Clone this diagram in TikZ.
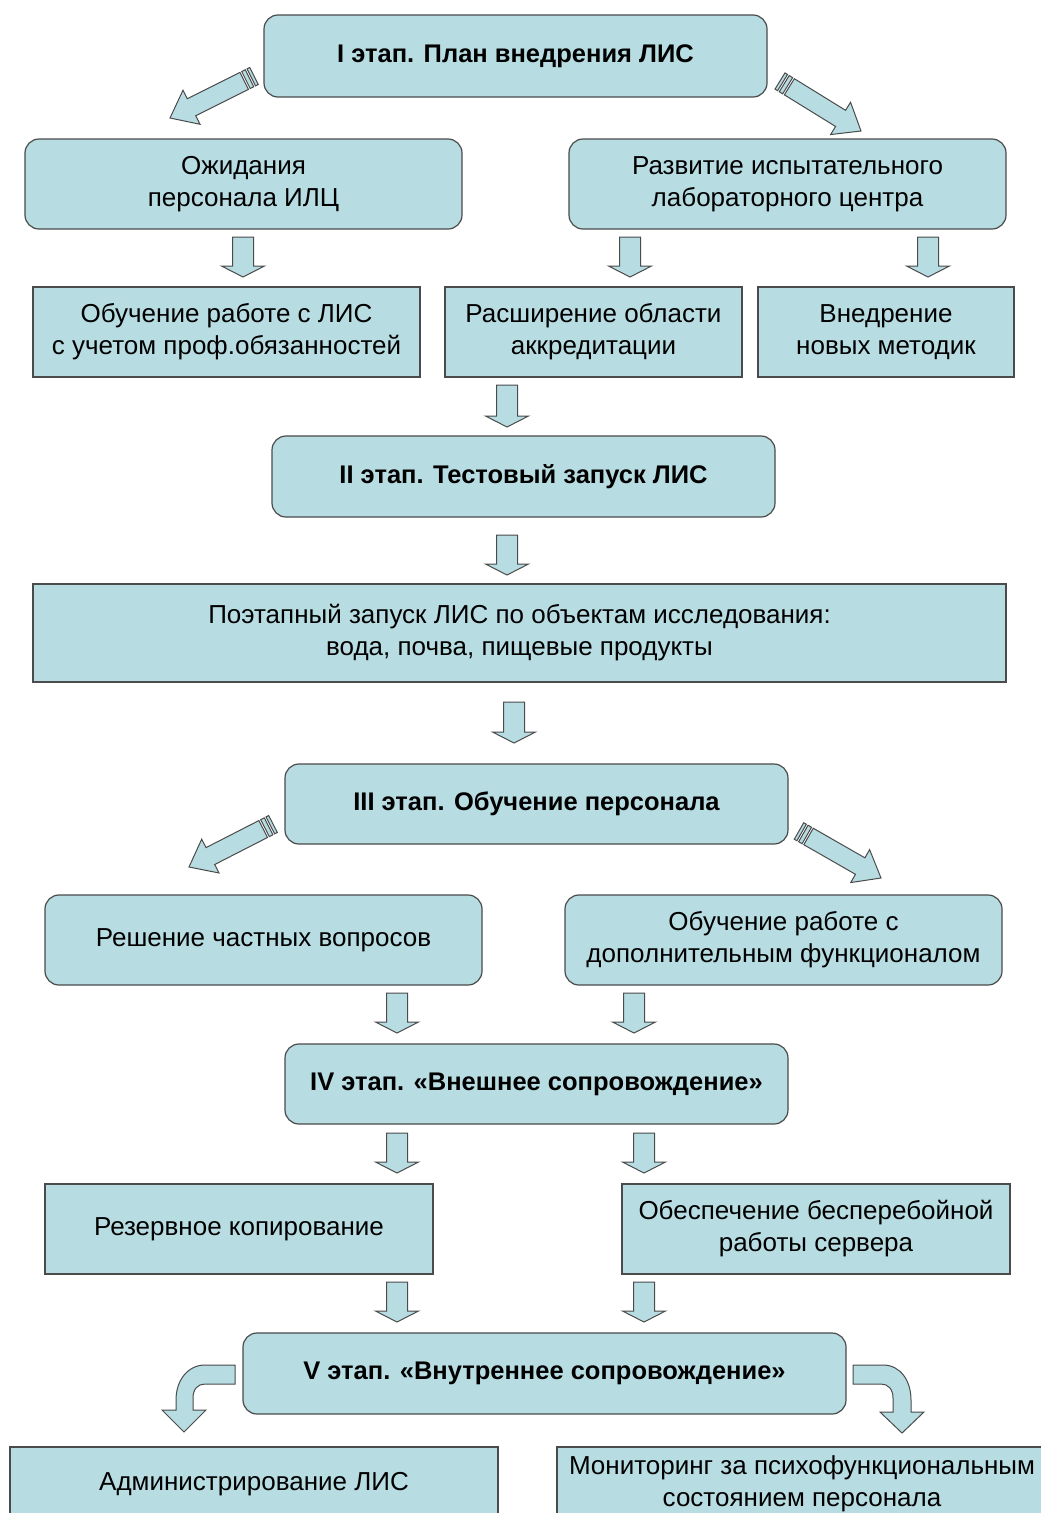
\documentclass[tikz,border=0pt]{standalone}
\usepackage{fontspec}
\setmainfont{Liberation Sans}
\usetikzlibrary{calc}
\definecolor{boxfill}{RGB}{183,221,227}
\definecolor{boxline}{RGB}{75,75,75}
\tikzset{
  base/.style={draw=boxline, line width=1.2pt, fill=boxfill, inner sep=0pt, align=center,
               font=\fontsize{26}{32}\selectfont},
  rbox/.style={base, rounded corners=14pt},
  sbox/.style={base},
  stage/.style={rbox, font=\fontsize{25.5}{31}\selectfont\bfseries},
  blkarrow/.style={draw=boxline, line width=1pt, fill=boxfill, line join=miter}
}
\newcommand\dnarr[3]{%
  \draw[blkarrow] (#1-10.5,#2) -- (#1+10.5,#2) -- (#1+10.5,#3-11) -- (#1+21.5,#3-11)
    -- (#1,#3) -- (#1-21.5,#3-11) -- (#1-10.5,#3-11) -- cycle;}
\newcommand\striparr[2]{%
  \coordinate (sa-s) at ($(#1)!11pt!(#2)$);
  \coordinate (sa-b) at ($(#2)!24pt!(#1)$);
  \coordinate (sa-m) at ($(#1)!5pt!(#2)$);
  \coordinate (sa-n) at ($(#1)!9pt!(#2)$);
  \coordinate (sa-t) at ($(#1)!3pt!(#2)$);
  \draw[blkarrow] ($(sa-s)!9.5pt!90:(#2)$) -- ($(sa-b)!9.5pt!90:(#2)$) -- ($(sa-b)!19pt!90:(#2)$)
    -- (#2) -- ($(sa-b)!19pt!-90:(#2)$) -- ($(sa-b)!9.5pt!-90:(#2)$) -- ($(sa-s)!9.5pt!-90:(#2)$) -- cycle;
  \draw[blkarrow] ($(#1)!9.5pt!90:(#2)$) -- ($(sa-t)!9.5pt!90:(#2)$) -- ($(sa-t)!9.5pt!-90:(#2)$)
    -- ($(#1)!9.5pt!-90:(#2)$) -- cycle;
  \draw[blkarrow] ($(sa-m)!9.5pt!90:(#2)$) -- ($(sa-n)!9.5pt!90:(#2)$) -- ($(sa-n)!9.5pt!-90:(#2)$)
    -- ($(sa-m)!9.5pt!-90:(#2)$) -- cycle;}
\begin{document}
\begin{tikzpicture}[x=1pt, y=-1pt]
\useasboundingbox (0,0) rectangle (1041,1513);
\fill[white] (0,0) rectangle (1041,1513);
\clip (0,0) rectangle (1041,1513);

% nodes
\node[stage, minimum width=503pt, minimum height=82pt] (s1) at (515.5,56) {I этап. План внедрения ЛИС};
\node[rbox, minimum width=437pt, minimum height=90pt] (ozh) at (243.5,184) {Ожидания\\персонала ИЛЦ};
\node[rbox, minimum width=437pt, minimum height=90pt] (razv) at (787.5,184) {Развитие испытательного\\лабораторного центра};
\node[sbox, minimum width=387pt, minimum height=90pt] (obuch) at (226.5,332) {Обучение работе с ЛИС\\с учетом проф.обязанностей};
\node[sbox, minimum width=297pt, minimum height=90pt] (rassh) at (593.5,332) {Расширение области\\аккредитации};
\node[sbox, minimum width=256pt, minimum height=90pt] (vnedr) at (886,332) {Внедрение\\новых методик};
\node[stage, minimum width=503pt, minimum height=81pt] (s2) at (523.5,476.5) {II этап. Тестовый запуск ЛИС};
\node[sbox, minimum width=973pt, minimum height=98pt] (zap) at (519.5,633) {Поэтапный запуск ЛИС по объектам исследования:\\вода, почва, пищевые продукты};
\node[stage, minimum width=503pt, minimum height=80pt] (s3) at (536.5,804) {III этап. Обучение персонала};
\node[rbox, minimum width=437pt, minimum height=90pt] (resh) at (263.5,940) {Решение частных вопросов};
\node[rbox, minimum width=437pt, minimum height=90pt] (dop) at (783.5,940) {Обучение работе с\\дополнительным функционалом};
\node[stage, minimum width=503pt, minimum height=80pt] (s4) at (536.5,1084) {IV этап. «Внешнее сопровождение»};
\node[sbox, minimum width=388pt, minimum height=90pt] (rez) at (239,1229) {Резервное копирование};
\node[sbox, minimum width=388pt, minimum height=90pt] (serv) at (816,1229) {Обеспечение бесперебойной\\работы сервера};
\node[stage, minimum width=603pt, minimum height=81pt] (s5) at (544.5,1373.5) {V этап. «Внутреннее сопровождение»};
\node[sbox, minimum width=488pt, minimum height=74pt] (adm) at (254,1484) {Администрирование ЛИС};
\node[sbox, minimum width=490pt, minimum height=74pt] (mon) at (802,1484) {Мониторинг за психофункциональным\\состоянием персонала};

% striped diagonal arrows
\coordinate (a1t) at (254,76);  \coordinate (a1h) at (170,118);
\coordinate (a2t) at (780,81);  \coordinate (a2h) at (861,131);
\coordinate (a3t) at (273,824); \coordinate (a3h) at (189,867);
\coordinate (a4t) at (799,831); \coordinate (a4h) at (881,878);
\striparr{a1t}{a1h}
\striparr{a2t}{a2h}
\striparr{a3t}{a3h}
\striparr{a4t}{a4h}

% down block arrows
\dnarr{243}{237}{277}
\dnarr{630}{237}{277}
\dnarr{928}{237}{277}
\dnarr{507}{385}{427}
\dnarr{507}{535}{575}
\dnarr{514}{702}{743}
\dnarr{397}{993}{1033}
\dnarr{634}{993}{1033}
\dnarr{397}{1133}{1173}
\dnarr{644}{1133}{1173}
\dnarr{397}{1282}{1322}
\dnarr{644}{1282}{1322}

% bent arrows
\draw[blkarrow] (235,1365) -- (205,1365) .. controls (188,1365) and (176,1380) .. (176,1400)
  -- (176,1410) -- (162,1410) -- (184,1432) -- (206,1410) -- (193,1410) -- (193,1398)
  .. controls (193,1389) and (198,1384) .. (205,1384) -- (235,1384) -- cycle;
\draw[blkarrow] (853,1365) -- (883,1365) .. controls (900,1365) and (911,1380) .. (911,1400)
  -- (911,1412) -- (924,1412) -- (902,1433) -- (880,1412) -- (893,1412) -- (893,1398)
  .. controls (893,1389) and (888,1384) .. (881,1384) -- (853,1384) -- cycle;
\end{tikzpicture}
\end{document}
